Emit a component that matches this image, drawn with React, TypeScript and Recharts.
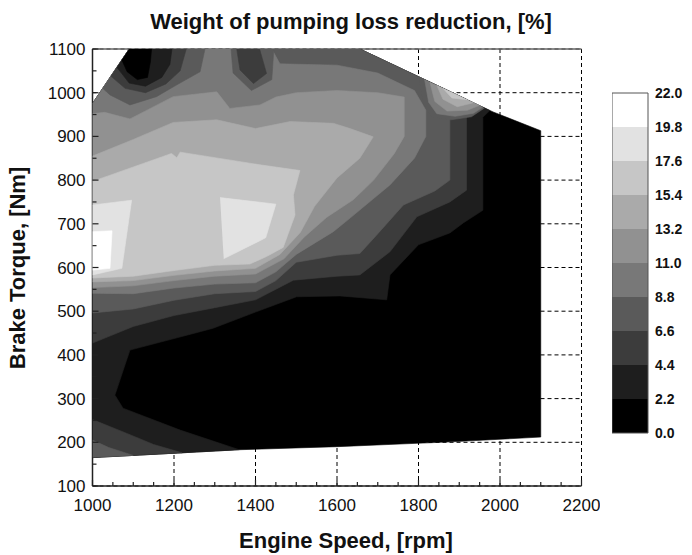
import React from "react";
import { ScatterChart, Scatter, XAxis, YAxis, CartesianGrid, ReferenceLine, BarChart, Bar } from "recharts";

type Pt = [number, number]; // [rpm, torque]

// contour levels of the colour bar, and the grey for each band between them
const levels = [0.0, 2.2, 4.4, 6.6, 8.8, 11.0, 13.2, 15.4, 17.6, 19.8, 22.0];
const bandColors = ["#000000", "#1e1e1e", "#3c3c3c", "#5a5a5a", "#787878", "#919191", "#aaaaaa", "#c6c6c6", "#e2e2e2", "#ffffff"];

const xTicks = [1000, 1050, 1100, 1150, 1200, 1250, 1300, 1350, 1400, 1450, 1500, 1550, 1600, 1650, 1700, 1750, 1800, 1850, 1900, 1950, 2000, 2050, 2100, 2150, 2200];
const xMajor = [1000, 1200, 1400, 1600, 1800, 2000, 2200];
const yTicks = [100, 150, 200, 250, 300, 350, 400, 450, 500, 550, 600, 650, 700, 750, 800, 850, 900, 950, 1000, 1050, 1100];
const yMajor = [100, 200, 300, 400, 500, 600, 700, 800, 900, 1000, 1100];

// measured map outline
const domainOutline: Pt[] = [[1000, 165], [1360, 183], [1600, 190], [1880, 201], [2100, 212], [2100, 913], [1983, 956], [1656, 1100], [1090, 1100], [1000, 975]];

// regions at or above each level
const above2_2: Pt[] = [[1000, 165], [1360, 183], [1215, 228], [1075, 278], [1055, 308], [1092, 411], [1264, 453], [1296, 461], [1400, 498], [1501, 533], [1607, 535], [1722, 526], [1730, 583], [1800, 652], [1877, 679], [1910, 702], [1958, 731], [1958, 944], [1975, 959], [1656, 1100], [1090, 1100], [1000, 975]];
const above4_4: Pt[] = [[1000, 427], [1100, 465], [1200, 490], [1300, 508], [1400, 526], [1493, 571], [1600, 580], [1656, 583], [1730, 636], [1796, 716], [1877, 750], [1918, 777], [1918, 985], [1656, 1100], [1090, 1100], [1000, 975]];
const above4_4Corner: Pt[] = [[1000, 166], [1220, 176], [1150, 195], [1080, 222], [1000, 252]];
const above6_6: Pt[] = [[1000, 496], [1100, 505], [1200, 525], [1300, 540], [1400, 545], [1450, 570], [1500, 612], [1600, 628], [1656, 632], [1697, 674], [1763, 743], [1840, 775], [1877, 800], [1877, 1003], [1656, 1100], [1090, 1100], [1000, 975]];
const above6_6Corner: Pt[] = [[1000, 166], [1100, 170], [1040, 188], [1000, 205]];
const above8_8: Pt[] = [[1000, 541], [1100, 540], [1200, 553], [1300, 562], [1400, 565], [1450, 590], [1500, 630], [1591, 682], [1632, 713], [1730, 789], [1790, 850], [1818, 900], [1818, 960], [1790, 1005], [1700, 1045], [1600, 1063], [1460, 1066], [1440, 1100], [1090, 1100], [1000, 975]];
const above11_0: Pt[] = [[1000, 554], [1100, 558], [1200, 570], [1300, 580], [1400, 585], [1470, 620], [1520, 670], [1575, 715], [1640, 755], [1690, 800], [1740, 860], [1765, 900], [1765, 990], [1700, 1000], [1600, 1005], [1500, 1000], [1450, 990], [1411, 972], [1337, 964], [1305, 1002], [1198, 991], [1092, 940], [1030, 955], [1000, 952]];
const above13_2: Pt[] = [[1000, 567], [1100, 570], [1200, 582], [1300, 592], [1400, 598], [1460, 630], [1510, 680], [1545, 740], [1600, 805], [1656, 850], [1689, 899], [1632, 918], [1591, 930], [1485, 934], [1400, 918], [1305, 938], [1198, 932], [1100, 893], [1000, 855]];
const above15_4: Pt[] = [[1000, 576], [1100, 580], [1200, 593], [1300, 605], [1386, 608], [1427, 625], [1468, 646], [1497, 720], [1493, 766], [1509, 822], [1411, 835], [1215, 864], [1207, 851], [1194, 861], [1000, 797]];
const above17_6Left: Pt[] = [[1000, 583], [1072, 598], [1096, 754], [1000, 743]];
const above17_6Right: Pt[] = [[1322, 620], [1425, 668], [1450, 745], [1313, 760]];
const above19_8: Pt[] = [[1000, 594], [1043, 598], [1048, 684], [1000, 682]];

// small peak on the upper edge near 1900 rpm
const peak6_6: Pt[] = [[1800, 1037], [1812, 975], [1830, 945], [1880, 938], [1930, 945], [1962, 965]];
const peak8_8: Pt[] = [[1815, 1030], [1825, 978], [1845, 952], [1890, 946], [1935, 953], [1958, 967]];
const peak11_0: Pt[] = [[1828, 1024], [1840, 980], [1870, 958], [1920, 960], [1950, 971]];
const peak13_2: Pt[] = [[1845, 1017], [1860, 985], [1895, 968], [1935, 977]];
const peak15_4: Pt[] = [[1860, 1010], [1882, 988], [1920, 984]];

// dips along the top edge (below each level)
const midPit8_8: Pt[] = [[1340, 1100], [1345, 1045], [1390, 1005], [1440, 1030], [1445, 1100]];
const midPit6_6: Pt[] = [[1354, 1100], [1362, 1052], [1395, 1021], [1427, 1044], [1410, 1100]];
const pit8_8: Pt[] = [[1025, 1010], [1043, 995], [1092, 972], [1157, 991], [1207, 1018], [1264, 1048], [1276, 1100], [1090, 1100]];
const pit6_6: Pt[] = [[1045, 1038], [1080, 1010], [1130, 1000], [1180, 1020], [1215, 1050], [1230, 1100], [1090, 1100]];
const pit4_4: Pt[] = [[1060, 1058], [1090, 1022], [1130, 1015], [1170, 1035], [1190, 1065], [1195, 1100], [1090, 1100]];
const pit2_2: Pt[] = [[1072, 1075], [1085, 1048], [1110, 1030], [1135, 1035], [1142, 1070], [1145, 1100], [1090, 1100]];

// painted in this order, later ones on top
const layers: { pts: Pt[]; band: number }[] = [
  { pts: domainOutline, band: 0 },
  { pts: above2_2, band: 1 },
  { pts: above4_4, band: 2 },
  { pts: above4_4Corner, band: 2 },
  { pts: above6_6, band: 3 },
  { pts: above6_6Corner, band: 3 },
  { pts: peak6_6, band: 3 },
  { pts: above8_8, band: 4 },
  { pts: peak8_8, band: 4 },
  { pts: above11_0, band: 5 },
  { pts: peak11_0, band: 5 },
  { pts: above13_2, band: 6 },
  { pts: peak13_2, band: 6 },
  { pts: above15_4, band: 7 },
  { pts: peak15_4, band: 7 },
  { pts: above17_6Left, band: 8 },
  { pts: above17_6Right, band: 8 },
  { pts: above19_8, band: 9 },
  { pts: midPit8_8, band: 3 },
  { pts: midPit6_6, band: 2 },
  { pts: pit8_8, band: 3 },
  { pts: pit6_6, band: 2 },
  { pts: pit4_4, band: 1 },
  { pts: pit2_2, band: 0 },
];

const FONT = '"Liberation Sans", Arial, sans-serif';
const TICK_GAP = 8;

function noDot() {
  return <g />;
}

function XTick(props: any) {
  const { x, y, payload } = props;
  const major = xMajor.includes(payload.value);
  const axisY = y - TICK_GAP;
  return (
    <g>
      <line x1={x} x2={x} y1={axisY} y2={axisY - (major ? 6 : 4)} stroke="#222" strokeWidth={1.2} />
      {major && (
        <text x={x} y={axisY + 25} textAnchor="middle" fontSize={17} fill="#111">
          {payload.value}
        </text>
      )}
    </g>
  );
}

function YTick(props: any) {
  const { x, y, payload } = props;
  const major = yMajor.includes(payload.value);
  const axisX = x + TICK_GAP;
  return (
    <g>
      <line x1={axisX} x2={axisX + (major ? 6 : 4)} y1={y} y2={y} stroke="#222" strokeWidth={1.2} />
      {major && (
        <text x={axisX - 7} y={y + 6} textAnchor="end" fontSize={17} fill="#111">
          {payload.value}
        </text>
      )}
    </g>
  );
}

// colour bar segment with the outer frame drawn on its sides
function makeBandShape(i: number) {
  return (props: any) => {
    const { x, y, width, height, fill } = props;
    const last = bandColors.length - 1;
    return (
      <g>
        <rect x={x} y={y} width={width} height={height} fill={fill} />
        <line x1={x} x2={x} y1={y} y2={y + height} stroke="#555" />
        <line x1={x + width} x2={x + width} y1={y} y2={y + height} stroke="#555" />
        {i === last && <line x1={x} x2={x + width} y1={y} y2={y} stroke="#555" />}
        {i === 0 && <line x1={x} x2={x + width} y1={y + height} y2={y + height} stroke="#555" />}
      </g>
    );
  };
}

const colorBarRow: Record<string, number | string> = { name: "bar" };
bandColors.forEach((_, i) => {
  colorBarRow["b" + i] = +(levels[i + 1] - levels[i]).toFixed(1);
});

export default function App() {
  return (
    <div style={{ position: "absolute", left: 0, top: 0, width: 692, height: 555, background: "#fff", fontFamily: FONT }}>
      <div style={{ position: "absolute", left: 351, top: 10, transform: "translateX(-50%)", whiteSpace: "nowrap", fontSize: 22, fontWeight: 700, lineHeight: "24px", color: "#111" }}>
        Weight of pumping loss reduction, [%]
      </div>
      <div style={{ position: "absolute", left: 346, top: 529, transform: "translateX(-50%)", whiteSpace: "nowrap", fontSize: 22, fontWeight: 700, lineHeight: "24px", color: "#111" }}>
        Engine Speed, [rpm]
      </div>
      <div style={{ position: "absolute", left: 18, top: 268, transform: "translate(-50%, -50%) rotate(-90deg)", whiteSpace: "nowrap", fontSize: 22, fontWeight: 700, lineHeight: "24px", color: "#111" }}>
        Brake Torque, [Nm]
      </div>

      <div style={{ position: "absolute", left: 0, top: 0 }}>
        <ScatterChart width={600} height={555} margin={{ top: 49, right: 18.5, bottom: 39, left: 0 }}>
          <CartesianGrid stroke="#000" strokeDasharray="4 3" verticalValues={xMajor} horizontalValues={yMajor} />
          {layers.map((l, i) => (
            <Scatter
              key={i}
              data={l.pts.map(([rpm, torque]) => ({ rpm, torque }))}
              line={{ fill: bandColors[l.band], stroke: bandColors[l.band], strokeWidth: 0.6 }}
              lineType="joint"
              shape={noDot}
              isAnimationActive={false}
            />
          ))}
          <ReferenceLine y={1100} stroke="#666" strokeWidth={1.5} />
          <XAxis type="number" dataKey="rpm" domain={[1000, 2200]} ticks={xTicks} interval={0} height={30} tickSize={0} tickMargin={TICK_GAP} tickLine={false} axisLine={{ stroke: "#222", strokeWidth: 1.5 }} tick={XTick} allowDataOverflow />
          <YAxis type="number" dataKey="torque" domain={[100, 1100]} ticks={yTicks} interval={0} width={92.5} tickSize={0} tickMargin={TICK_GAP} tickLine={false} axisLine={{ stroke: "#222", strokeWidth: 1.5 }} tick={YTick} allowDataOverflow />
        </ScatterChart>
      </div>

      <div style={{ position: "absolute", left: 612, top: 83 }}>
        <BarChart width={80} height={360} data={[colorBarRow]} margin={{ top: 10, right: 0, bottom: 10, left: 0 }} barCategoryGap={0} barGap={0}>
          <XAxis dataKey="name" hide />
          <YAxis orientation="right" type="number" domain={[0, 22]} ticks={levels} interval={0} width={44} tickSize={0} tickMargin={7} axisLine={false} tickLine={false} tickFormatter={(v: number) => v.toFixed(1)} tick={{ fontSize: 14, fontWeight: 700, fill: "#111" }} />
          {bandColors.map((c, i) => (
            <Bar key={i} dataKey={"b" + i} stackId="cb" fill={c} shape={makeBandShape(i)} isAnimationActive={false} />
          ))}
        </BarChart>
      </div>
    </div>
  );
}
